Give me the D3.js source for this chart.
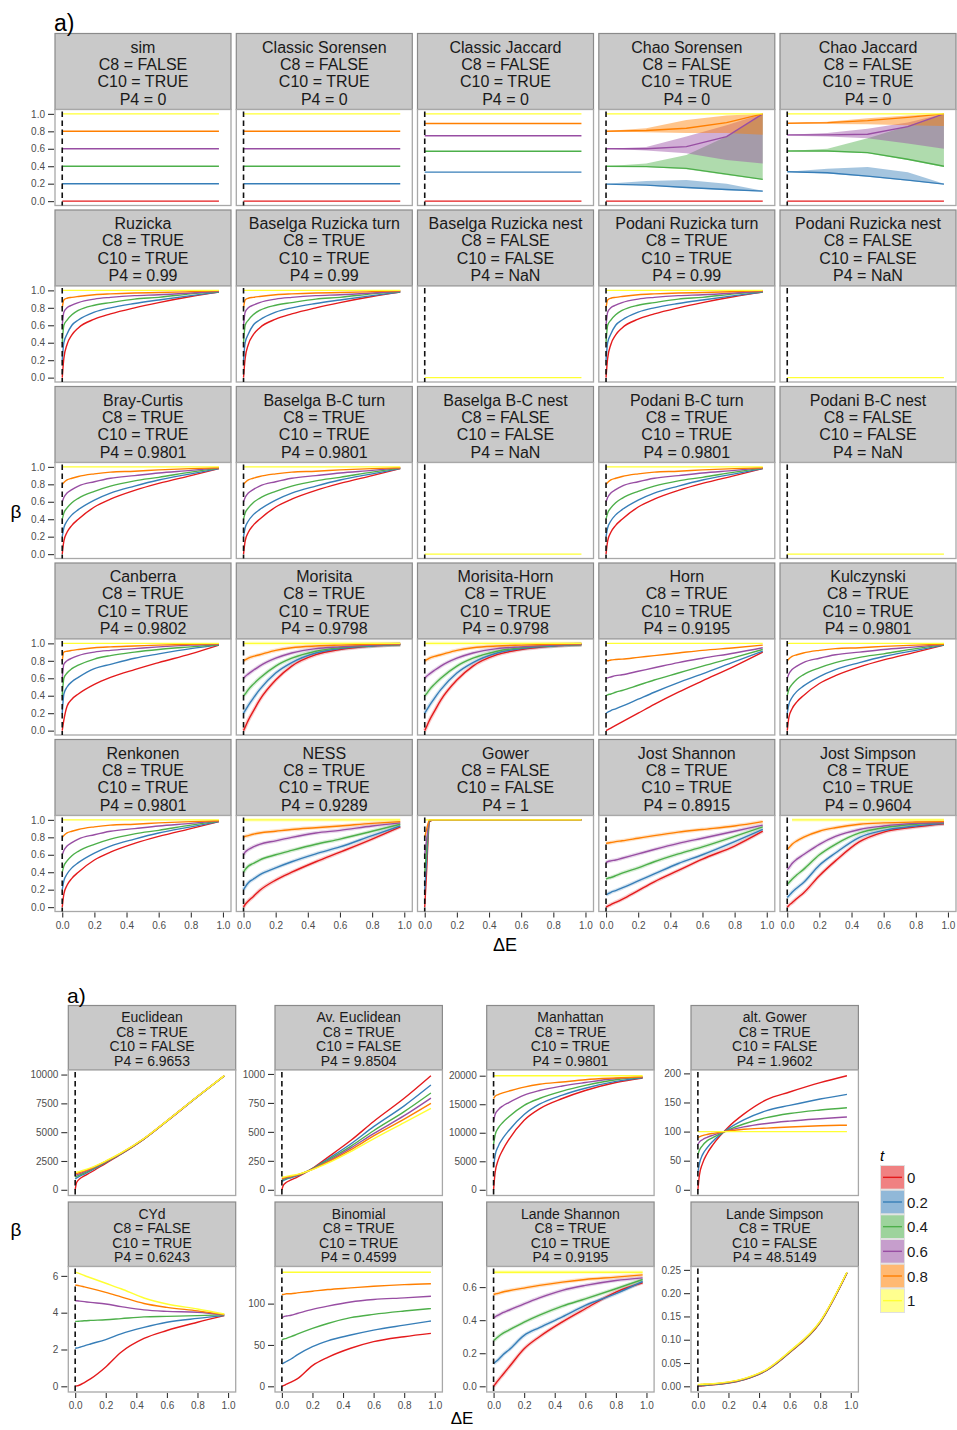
<!DOCTYPE html>
<html>
<head>
<meta charset="utf-8">
<script src="https://d3js.org/d3.v7.min.js"></script>
<style>
  body { margin: 0; background: #fff; }
  text { font-family: "Liberation Sans", Arial, sans-serif; }
</style>
</head>
<body>
<svg id="chart" width="957" height="1430"></svg>
<script>
// ---------- data ----------
var tLevels = ["0", "0.2", "0.4", "0.6", "0.8", "1"];
var tColors = ["#E41A1C", "#377EB8", "#4DAF4A", "#984EA3", "#FF7F00", "#FFFF33"];

// Delta E grids
var dE = [0, 0.01, 0.03, 0.06, 0.1, 0.2, 0.3, 0.45, 0.6, 0.8, 0.975];
var dEFlat = [0, 0.975];
var dEChao = [0, 0.25, 0.5, 0.75, 0.975];

// series order: t = 0, 0.2, 0.4, 0.6, 0.8, 1
var simFlat = [[0, 0], [0.2, 0.2], [0.4, 0.4], [0.6, 0.6], [0.8, 0.8], [1, 1]];
var jaccardFlat = [[0, 0], [0.333, 0.333], [0.571, 0.571], [0.75, 0.75], [0.889, 0.889], [1, 1]];
var nestFlat = [null, null, null, null, null, [0, 0]];

var chaoSorMid = [
  [0, 0, 0, 0, 0],
  [0.195, 0.184, 0.157, 0.134, 0.115],
  [0.4, 0.395, 0.375, 0.31, 0.25],
  [0.6, 0.6, 0.625, 0.74, 1.0],
  [0.8, 0.81, 0.835, 0.9, 1.0],
  [1, 1, 1, 1, 1]
];
var chaoSorLo = [
  null,
  [0.195, 0.178, 0.15, 0.125, 0.11],
  [0.4, 0.39, 0.365, 0.3, 0.245],
  [0.6, 0.58, 0.55, 0.47, 0.43],
  [0.8, 0.79, 0.78, 0.78, 0.76],
  null
];
var chaoSorHi = [
  null,
  [0.2, 0.23, 0.241, 0.2, 0.12],
  [0.4, 0.43, 0.53, 0.74, 0.99],
  [0.6, 0.62, 0.74, 0.87, 1.0],
  [0.805, 0.835, 0.93, 0.98, 1.0],
  null
];
var chaoJacMid = [
  [0, 0, 0, 0, 0],
  [0.337, 0.326, 0.287, 0.241, 0.195],
  [0.575, 0.575, 0.556, 0.48, 0.4],
  [0.759, 0.759, 0.766, 0.854, 1.0],
  [0.893, 0.9, 0.923, 0.96, 1.0],
  [1, 1, 1, 1, 1]
];
var chaoJacLo = [
  null,
  [0.333, 0.318, 0.28, 0.235, 0.19],
  [0.571, 0.57, 0.55, 0.47, 0.39],
  [0.75, 0.74, 0.72, 0.66, 0.6],
  [0.889, 0.885, 0.88, 0.87, 0.86],
  null
];
var chaoJacHi = [
  null,
  [0.337, 0.37, 0.39, 0.33, 0.2],
  [0.575, 0.6, 0.72, 0.86, 0.99],
  [0.76, 0.78, 0.83, 0.9, 1.0],
  [0.893, 0.91, 0.95, 0.98, 1.0],
  null
];

var ruzicka = [
  [0, 0.22, 0.38, 0.49, 0.57, 0.67, 0.73, 0.8, 0.86, 0.93, 0.98],
  [0.2, 0.4, 0.5, 0.6, 0.66, 0.75, 0.8, 0.85, 0.89, 0.94, 0.98],
  [0.4, 0.6, 0.66, 0.72, 0.77, 0.83, 0.86, 0.9, 0.92, 0.96, 0.985],
  [0.6, 0.75, 0.8, 0.83, 0.86, 0.9, 0.92, 0.94, 0.95, 0.97, 0.99],
  [0.8, 0.89, 0.91, 0.92, 0.93, 0.95, 0.96, 0.97, 0.975, 0.985, 0.995],
  [1, 1, 1, 1, 1, 1, 1, 1, 1, 1, 1]
];
var brayCurtis = [
  [0, 0.15, 0.25, 0.33, 0.4, 0.54, 0.63, 0.73, 0.81, 0.9, 0.98],
  [0.2, 0.3, 0.38, 0.45, 0.51, 0.62, 0.7, 0.78, 0.85, 0.92, 0.98],
  [0.4, 0.47, 0.53, 0.59, 0.64, 0.72, 0.78, 0.84, 0.88, 0.94, 0.985],
  [0.6, 0.65, 0.7, 0.74, 0.78, 0.83, 0.87, 0.9, 0.93, 0.96, 0.99],
  [0.8, 0.82, 0.85, 0.87, 0.89, 0.92, 0.94, 0.95, 0.965, 0.98, 0.99],
  [1, 1, 1, 1, 1, 1, 1, 1, 1, 1, 1]
];
var canberra = [
  [0, 0.12, 0.28, 0.36, 0.42, 0.53, 0.61, 0.7, 0.78, 0.88, 0.98],
  [0.2, 0.42, 0.5, 0.56, 0.61, 0.71, 0.76, 0.83, 0.88, 0.94, 0.98],
  [0.4, 0.6, 0.66, 0.71, 0.75, 0.82, 0.86, 0.9, 0.93, 0.96, 0.985],
  [0.6, 0.76, 0.8, 0.83, 0.86, 0.9, 0.92, 0.94, 0.96, 0.98, 0.99],
  [0.8, 0.9, 0.91, 0.92, 0.93, 0.95, 0.96, 0.97, 0.98, 0.99, 0.995],
  [1, 1, 1, 1, 1, 1, 1, 1, 1, 1, 1]
];
var morisita = [
  [0, 0.04, 0.12, 0.22, 0.35, 0.58, 0.74, 0.87, 0.93, 0.97, 0.985],
  [0.2, 0.23, 0.29, 0.37, 0.47, 0.66, 0.78, 0.89, 0.94, 0.97, 0.985],
  [0.4, 0.42, 0.47, 0.53, 0.6, 0.74, 0.83, 0.91, 0.95, 0.975, 0.985],
  [0.6, 0.62, 0.65, 0.69, 0.74, 0.83, 0.89, 0.94, 0.96, 0.98, 0.99],
  [0.8, 0.81, 0.83, 0.85, 0.87, 0.92, 0.95, 0.97, 0.98, 0.99, 0.995],
  [1, 1, 1, 1, 1, 1, 1, 1, 1, 1, 1]
];
var horn = [
  [0, 0.01, 0.03, 0.06, 0.1, 0.2, 0.3, 0.44, 0.57, 0.74, 0.9],
  [0.2, 0.21, 0.23, 0.25, 0.28, 0.36, 0.44, 0.55, 0.65, 0.79, 0.91],
  [0.4, 0.41, 0.42, 0.44, 0.46, 0.52, 0.58, 0.66, 0.74, 0.84, 0.93],
  [0.6, 0.605, 0.615, 0.63, 0.64, 0.68, 0.72, 0.78, 0.83, 0.89, 0.95],
  [0.8, 0.8, 0.81, 0.815, 0.82, 0.84, 0.86, 0.89, 0.92, 0.95, 0.98],
  [1, 1, 1, 1, 1, 1, 1, 1, 1, 1, 1]
];
var ness = [
  [0, 0.03, 0.07, 0.12, 0.19, 0.31, 0.4, 0.52, 0.63, 0.78, 0.92],
  [0.2, 0.23, 0.28, 0.32, 0.37, 0.45, 0.52, 0.61, 0.69, 0.82, 0.93],
  [0.4, 0.43, 0.47, 0.5, 0.54, 0.6, 0.65, 0.72, 0.78, 0.87, 0.95],
  [0.6, 0.63, 0.66, 0.69, 0.72, 0.76, 0.8, 0.85, 0.88, 0.93, 0.965],
  [0.8, 0.81, 0.82, 0.835, 0.85, 0.87, 0.89, 0.91, 0.93, 0.96, 0.98],
  [1, 1, 1, 1, 1, 1, 1, 1, 1, 1, 1]
];
var gower = [
  [0, 0.35, 0.98, 1, 1, 1, 1, 1, 1, 1, 1],
  [0.2, 0.5, 0.99, 1, 1, 1, 1, 1, 1, 1, 1],
  [0.4, 0.62, 0.99, 1, 1, 1, 1, 1, 1, 1, 1],
  [0.6, 0.75, 1, 1, 1, 1, 1, 1, 1, 1, 1],
  [0.8, 0.88, 1, 1, 1, 1, 1, 1, 1, 1, 1],
  [1, 1, 1, 1, 1, 1, 1, 1, 1, 1, 1]
];
var jostShannon = [
  [0, 0.01, 0.03, 0.055, 0.09, 0.19, 0.29, 0.42, 0.55, 0.7, 0.87],
  [0.14, 0.15, 0.17, 0.19, 0.22, 0.3, 0.38, 0.5, 0.6, 0.75, 0.89],
  [0.32, 0.33, 0.34, 0.36, 0.39, 0.45, 0.52, 0.61, 0.69, 0.81, 0.92],
  [0.51, 0.52, 0.53, 0.54, 0.56, 0.61, 0.66, 0.73, 0.79, 0.87, 0.94],
  [0.73, 0.735, 0.74, 0.75, 0.76, 0.79, 0.82, 0.86, 0.89, 0.93, 0.98],
  null
];
var jostSimpson = [
  [0, 0.02, 0.05, 0.1, 0.16, 0.36, 0.53, 0.75, 0.86, 0.92, 0.955],
  [0.11, 0.13, 0.17, 0.22, 0.28, 0.48, 0.62, 0.8, 0.88, 0.93, 0.96],
  [0.26, 0.28, 0.32, 0.37, 0.43, 0.6, 0.72, 0.85, 0.91, 0.95, 0.965],
  [0.43, 0.45, 0.5, 0.55, 0.6, 0.72, 0.81, 0.89, 0.93, 0.96, 0.97],
  [0.66, 0.68, 0.72, 0.76, 0.8, 0.87, 0.91, 0.95, 0.965, 0.975, 0.98],
  [null, null, 1, 1, 1, 1, 1, 1, 1, 1, 1]
];

// second figure
var euclidean = [
  [0, 650, 950, 1200, 1500, 2300, 3090, 4400, 5950, 8080, 9880],
  [950, 1040, 1180, 1370, 1640, 2370, 3120, 4410, 5960, 8080, 9880],
  [1100, 1170, 1290, 1460, 1710, 2400, 3140, 4420, 5970, 8090, 9890],
  [1250, 1300, 1400, 1550, 1780, 2440, 3160, 4430, 5970, 8090, 9890],
  [1380, 1420, 1500, 1640, 1840, 2470, 3180, 4440, 5980, 8100, 9900],
  [1500, 1530, 1600, 1720, 1900, 2500, 3200, 4450, 5980, 8100, 9900]
];
var avEuclidean = [
  [0, 40, 65, 85, 110, 185, 280, 425, 590, 790, 985],
  [72, 80, 92, 104, 120, 182, 265, 395, 545, 725, 905],
  [84, 90, 100, 110, 124, 180, 255, 375, 510, 675, 836],
  [92, 97, 105, 114, 127, 178, 245, 360, 485, 640, 792],
  [98, 102, 109, 117, 129, 176, 238, 345, 465, 610, 746],
  [107, 110, 116, 123, 133, 174, 230, 330, 440, 580, 703]
];
var manhattan = [
  [0, 3000, 5200, 7000, 8800, 12200, 14200, 16000, 17400, 18800, 19600],
  [4000, 6000, 7600, 9000, 10400, 13200, 15000, 16600, 17800, 19000, 19650],
  [8000, 9600, 10800, 11800, 12800, 14800, 16000, 17300, 18300, 19300, 19700],
  [12000, 13200, 14000, 14700, 15300, 16600, 17400, 18200, 18800, 19500, 19750],
  [16000, 16400, 16700, 17000, 17300, 18000, 18500, 18900, 19300, 19600, 19800],
  [20000, 20000, 20000, 20000, 20000, 20000, 20000, 20000, 20000, 20000, 20000]
];
var altGower = [
  [0, 25, 45, 62, 78, 108, 130, 155, 168, 184, 196],
  [30, 45, 60, 72, 84, 105, 120, 136, 145, 156, 164],
  [60, 68, 76, 84, 90, 103, 113, 124, 131, 137, 141],
  [78, 82, 86, 90, 94, 102, 108, 114, 118, 122, 125],
  [90, 91, 93, 95, 97, 101, 104, 106, 108, 110, 111],
  [100, 100, 100, 100, 100, 100, 100, 100, 100, 100, 100]
];
var cyd = [
  [0, 0.02, 0.07, 0.2, 0.4, 1.05, 1.85, 2.6, 3.03, 3.48, 3.84],
  [2.07, 2.08, 2.12, 2.2, 2.3, 2.54, 2.85, 3.2, 3.48, 3.69, 3.84],
  [3.53, 3.53, 3.54, 3.56, 3.58, 3.62, 3.68, 3.77, 3.8, 3.84, 3.88],
  [4.65, 4.65, 4.63, 4.6, 4.56, 4.47, 4.33, 4.15, 4.07, 4.02, 3.88],
  [5.5, 5.49, 5.46, 5.4, 5.32, 5.1, 4.86, 4.5, 4.29, 4.1, 3.9],
  [6.2, 6.18, 6.12, 6.02, 5.9, 5.6, 5.3, 4.8, 4.47, 4.2, 3.93]
];
var binomial = [
  [0, 0.8, 2.5, 5, 9, 25, 35, 46, 54, 60, 64],
  [27, 28, 30, 33, 38, 48, 55, 62, 68, 74, 79],
  [56, 57, 58, 60, 63, 70, 76, 83, 87, 91, 94],
  [83, 84, 85, 86, 88, 93, 97, 102, 105, 107, 109],
  [111, 111, 112, 112, 113, 115, 117, 119, 121, 123, 124],
  [138, 138, 138, 138, 138, 138, 138, 138, 138, 138, 138]
];
var landeShannon = [
  [0, 0.012, 0.036, 0.07, 0.115, 0.227, 0.3, 0.39, 0.469, 0.57, 0.626],
  [0.137, 0.145, 0.16, 0.19, 0.22, 0.308, 0.355, 0.42, 0.489, 0.56, 0.634],
  [0.278, 0.284, 0.3, 0.32, 0.34, 0.388, 0.43, 0.485, 0.529, 0.59, 0.646],
  [0.414, 0.42, 0.43, 0.445, 0.46, 0.499, 0.535, 0.58, 0.61, 0.64, 0.656],
  [0.555, 0.558, 0.562, 0.57, 0.578, 0.594, 0.61, 0.63, 0.646, 0.66, 0.674],
  [0.69, 0.69, 0.69, 0.69, 0.69, 0.69, 0.69, 0.69, 0.69, 0.69, 0.69]
];
var landeSimpson = [
  [0, 0.0003, 0.001, 0.002, 0.003, 0.007, 0.014, 0.034, 0.072, 0.137, 0.243],
  [0.001, 0.0012, 0.0018, 0.0026, 0.0036, 0.0075, 0.0145, 0.0345, 0.073, 0.138, 0.2435],
  [0.002, 0.0021, 0.0026, 0.0033, 0.0042, 0.008, 0.015, 0.035, 0.073, 0.138, 0.244],
  [0.003, 0.0031, 0.0035, 0.004, 0.0048, 0.0085, 0.0155, 0.0355, 0.074, 0.139, 0.244],
  [0.0035, 0.0036, 0.004, 0.0045, 0.0052, 0.009, 0.016, 0.036, 0.074, 0.139, 0.2445],
  [0.004, 0.0041, 0.0045, 0.005, 0.0056, 0.0095, 0.0165, 0.0365, 0.075, 0.14, 0.245]
];

var xTicks = [0, 0.2, 0.4, 0.6, 0.8, 1.0];

// panel tables: name, C8, C10, P4, x grid, series, lower, upper, banded
var topPanels = [
  ["sim", "FALSE", "TRUE", "0", dEFlat, simFlat],
  ["Classic Sorensen", "FALSE", "TRUE", "0", dEFlat, simFlat],
  ["Classic Jaccard", "FALSE", "TRUE", "0", dEFlat, jaccardFlat],
  ["Chao Sorensen", "FALSE", "TRUE", "0", dEChao, chaoSorMid, chaoSorLo, chaoSorHi],
  ["Chao Jaccard", "FALSE", "TRUE", "0", dEChao, chaoJacMid, chaoJacLo, chaoJacHi],
  ["Ruzicka", "TRUE", "TRUE", "0.99", dE, ruzicka],
  ["Baselga Ruzicka turn", "TRUE", "TRUE", "0.99", dE, ruzicka],
  ["Baselga Ruzicka nest", "FALSE", "FALSE", "NaN", dEFlat, nestFlat],
  ["Podani Ruzicka turn", "TRUE", "TRUE", "0.99", dE, ruzicka],
  ["Podani Ruzicka nest", "FALSE", "FALSE", "NaN", dEFlat, nestFlat],
  ["Bray-Curtis", "TRUE", "TRUE", "0.9801", dE, brayCurtis],
  ["Baselga B-C turn", "TRUE", "TRUE", "0.9801", dE, brayCurtis],
  ["Baselga B-C nest", "FALSE", "FALSE", "NaN", dEFlat, nestFlat],
  ["Podani B-C turn", "TRUE", "TRUE", "0.9801", dE, brayCurtis],
  ["Podani B-C nest", "FALSE", "FALSE", "NaN", dEFlat, nestFlat],
  ["Canberra", "TRUE", "TRUE", "0.9802", dE, canberra],
  ["Morisita", "TRUE", "TRUE", "0.9798", dE, morisita, null, null, true],
  ["Morisita-Horn", "TRUE", "TRUE", "0.9798", dE, morisita, null, null, true],
  ["Horn", "TRUE", "TRUE", "0.9195", dE, horn],
  ["Kulczynski", "TRUE", "TRUE", "0.9801", dE, brayCurtis],
  ["Renkonen", "TRUE", "TRUE", "0.9801", dE, brayCurtis],
  ["NESS", "TRUE", "TRUE", "0.9289", dE, ness, null, null, true],
  ["Gower", "FALSE", "FALSE", "1", dE, gower],
  ["Jost Shannon", "TRUE", "TRUE", "0.8915", dE, jostShannon, null, null, true],
  ["Jost Simpson", "TRUE", "TRUE", "0.9604", dE, jostSimpson, null, null, true]
];
var bottomPanels = [
  ["Euclidean", "TRUE", "FALSE", "6.9653", dE, euclidean, [0, 2500, 5000, 7500, 10000], "d"],
  ["Av. Euclidean", "TRUE", "FALSE", "9.8504", dE, avEuclidean, [0, 250, 500, 750, 1000], "d"],
  ["Manhattan", "TRUE", "TRUE", "0.9801", dE, manhattan, [0, 5000, 10000, 15000, 20000], "d"],
  ["alt. Gower", "TRUE", "FALSE", "1.9602", dE, altGower, [0, 50, 100, 150, 200], "d"],
  ["CYd", "FALSE", "TRUE", "0.6243", dE, cyd, [0, 2, 4, 6], "d"],
  ["Binomial", "TRUE", "TRUE", "0.4599", dE, binomial, [0, 50, 100], "d"],
  ["Lande Shannon", "TRUE", "TRUE", "0.9195", dE, landeShannon, [0, 0.2, 0.4, 0.6], ".1f"],
  ["Lande Simpson", "TRUE", "FALSE", "48.5149", dE, landeSimpson, [0, 0.05, 0.1, 0.15, 0.2, 0.25], ".2f"]
];

// ---------- drawing ----------
var svg = d3.select("#chart");
svg.append("rect").attr("width", 957).attr("height", 1430).attr("fill", "#fff");

function drawStrip(g, x, y, w, h, lines, fs, first, step) {
  g.append("rect").attr("x", x).attr("y", y).attr("width", w).attr("height", h)
    .attr("fill", "#c9c9c9").attr("stroke", "#8a8a8a").attr("stroke-width", 1.2);
  var t = g.append("text").attr("text-anchor", "middle").attr("font-size", fs).attr("fill", "#1a1a1a");
  lines.forEach(function(s, i) {
    t.append("tspan").attr("x", x + w / 2).attr("y", y + first + step * i + fs * 0.36).text(s);
  });
}

function drawSeries(g, xs, p, xScale, yScale, linear) {
  var series = p[5], lo = p[6], hi = p[7], banded = p[8];
  var curve = linear ? d3.curveLinear : d3.curveMonotoneX;
  // ribbons
  if (lo && hi) {
    series.forEach(function(s, k) {
      if (!lo[k] || !hi[k]) return;
      var area = d3.area().curve(curve)
        .x(function(d, i) { return xScale(xs[i]); })
        .y0(function(d, i) { return yScale(lo[k][i]); })
        .y1(function(d, i) { return yScale(hi[k][i]); });
      g.append("path").attr("d", area(xs)).attr("fill", tColors[k]).attr("fill-opacity", 0.45);
    });
  }
  // thin uncertainty band drawn as a soft wide stroke
  if (banded) {
    series.forEach(function(s, k) {
      if (!s) return;
      var line = d3.line().curve(curve).defined(function(d) { return d != null; })
        .x(function(d, i) { return xScale(xs[i]); }).y(function(d) { return yScale(d); });
      g.append("path").attr("d", line(s)).attr("fill", "none").attr("stroke", tColors[k])
        .attr("stroke-opacity", 0.22).attr("stroke-width", 3.8);
    });
  }
  series.forEach(function(s, k) {
    if (!s) return;
    var line = d3.line().curve(curve).defined(function(d) { return d != null; })
      .x(function(d, i) { return xScale(xs[i]); }).y(function(d) { return yScale(d); });
    g.append("path").attr("d", line(s)).attr("fill", "none").attr("stroke", tColors[k])
      .attr("stroke-width", 1.4);
  });
}

function styleAxis(a, fs) {
  a.select(".domain").remove();
  a.selectAll(".tick line").attr("stroke", "#333").attr("stroke-width", 1.1);
  a.selectAll(".tick text").attr("fill", "#4d4d4d").attr("font-size", fs)
    .attr("font-family", "Liberation Sans, Arial, sans-serif");
}

function drawPanel(p, box, yScale, opts) {
  var g = svg.append("g");
  drawStrip(g, box.x, box.y, box.w, opts.stripH, [p[0], "C8 = " + p[1], "C10 = " + p[2], "P4 = " + p[3]],
    opts.fs, opts.first, opts.step);
  var top = box.y + opts.stripH;
  var xScale = d3.scaleLinear().domain([-0.045, 1.05]).range([box.x, box.x + box.w]);
  yScale.range([top + opts.plotH, top]);
  g.append("rect").attr("x", box.x).attr("y", top).attr("width", box.w).attr("height", opts.plotH)
    .attr("fill", "#fff").attr("stroke", "#a8a8a8").attr("stroke-width", 1.3);
  drawSeries(g, p[4], p, xScale, yScale, p[4] === dEChao);
  // dashed reference line at dE = 0
  g.append("line").attr("x1", xScale(0)).attr("x2", xScale(0))
    .attr("y1", top + 2).attr("y2", top + opts.plotH)
    .attr("stroke", "#111").attr("stroke-width", 1.6).attr("stroke-dasharray", "5.5,3.5");
  if (opts.showY) {
    var ay = g.append("g").attr("transform", "translate(" + (box.x - 1) + ",0)")
      .call(d3.axisLeft(yScale).tickValues(opts.yTicks).tickFormat(d3.format(opts.yFmt)).tickSize(6).tickPadding(3));
    styleAxis(ay, 10);
  }
  if (opts.showX) {
    var ax = g.append("g").attr("transform", "translate(0," + (top + opts.plotH + 1) + ")")
      .call(d3.axisBottom(xScale).tickValues(xTicks).tickFormat(d3.format(".1f")).tickSize(5).tickPadding(4));
    styleAxis(ax, 10);
  }
}

// top figure: fixed scales
var topColX = [55, 236.3, 417.5, 598.8, 780];
topPanels.forEach(function(p, i) {
  var r = Math.floor(i / 5), c = i % 5;
  var yScale = d3.scaleLinear().domain([-0.05, 1.05]);
  drawPanel(p, { x: topColX[c], y: 33.5 + 176.5 * r, w: 176 }, yScale, {
    stripH: 76, plotH: 96, fs: 16, first: 13.3, step: 17.4,
    showY: c === 0, showX: r === 4, yTicks: [0, 0.2, 0.4, 0.6, 0.8, 1.0], yFmt: ".1f"
  });
});

// bottom figure: free y scales
var botColX = [68.3, 275, 486.7, 691];
var botRowY = [1005.5, 1202];
bottomPanels.forEach(function(p, i) {
  var r = Math.floor(i / 4), c = i % 4;
  var vals = [];
  p[5].forEach(function(s) { if (s) s.forEach(function(v) { if (v != null) vals.push(v); }); });
  var ext = d3.extent(vals), pad = (ext[1] - ext[0]) * 0.05;
  var yScale = d3.scaleLinear().domain([ext[0] - pad, ext[1] + pad]);
  var panel = [p[0], p[1], p[2], p[3], p[4], p[5], null, null, p[0] === "Lande Shannon"];
  drawPanel(panel, { x: botColX[c], y: botRowY[r], w: 167.4 }, yScale, {
    stripH: 64.5, plotH: 125.5, fs: 14, first: 11.5, step: 14.5,
    showY: true, showX: r === 1, yTicks: p[6], yFmt: p[7]
  });
});

// titles
svg.append("text").attr("x", 54).attr("y", 31).attr("font-size", 23).text("a)");
svg.append("text").attr("x", 505).attr("y", 951).attr("font-size", 18).attr("text-anchor", "middle").text("ΔE");
svg.append("text").attr("x", 16).attr("y", 518).attr("font-size", 19).attr("text-anchor", "middle")
  .attr("font-family", "DejaVu Serif, serif").text("β");
svg.append("text").attr("x", 67).attr("y", 1003).attr("font-size", 21).text("a)");
svg.append("text").attr("x", 462).attr("y", 1424).attr("font-size", 17).attr("text-anchor", "middle").text("ΔE");
svg.append("text").attr("x", 16).attr("y", 1236).attr("font-size", 19).attr("text-anchor", "middle")
  .attr("font-family", "DejaVu Serif, serif").text("β");

// legend
var leg = svg.append("g");
leg.append("text").attr("x", 880).attr("y", 1161).attr("font-size", 15).attr("font-style", "italic").text("t");
var legY = d3.scaleBand().domain(tLevels).range([1165, 1313]);
tLevels.forEach(function(t, k) {
  var y0 = legY(t);
  leg.append("rect").attr("x", 880.5).attr("y", y0 + 0.5).attr("width", 24).attr("height", legY.bandwidth() - 1)
    .attr("fill", tColors[k]).attr("fill-opacity", 0.55).attr("stroke", "#e0e0e0").attr("stroke-width", 1);
  leg.append("line").attr("x1", 883).attr("x2", 902).attr("y1", y0 + legY.bandwidth() / 2).attr("y2", y0 + legY.bandwidth() / 2)
    .attr("stroke", tColors[k]).attr("stroke-width", 1.4);
  leg.append("text").attr("x", 907).attr("y", y0 + legY.bandwidth() / 2 + 5.5).attr("font-size", 15)
    .attr("fill", "#1a1a1a").text(t);
});
</script>
</body>
</html>
